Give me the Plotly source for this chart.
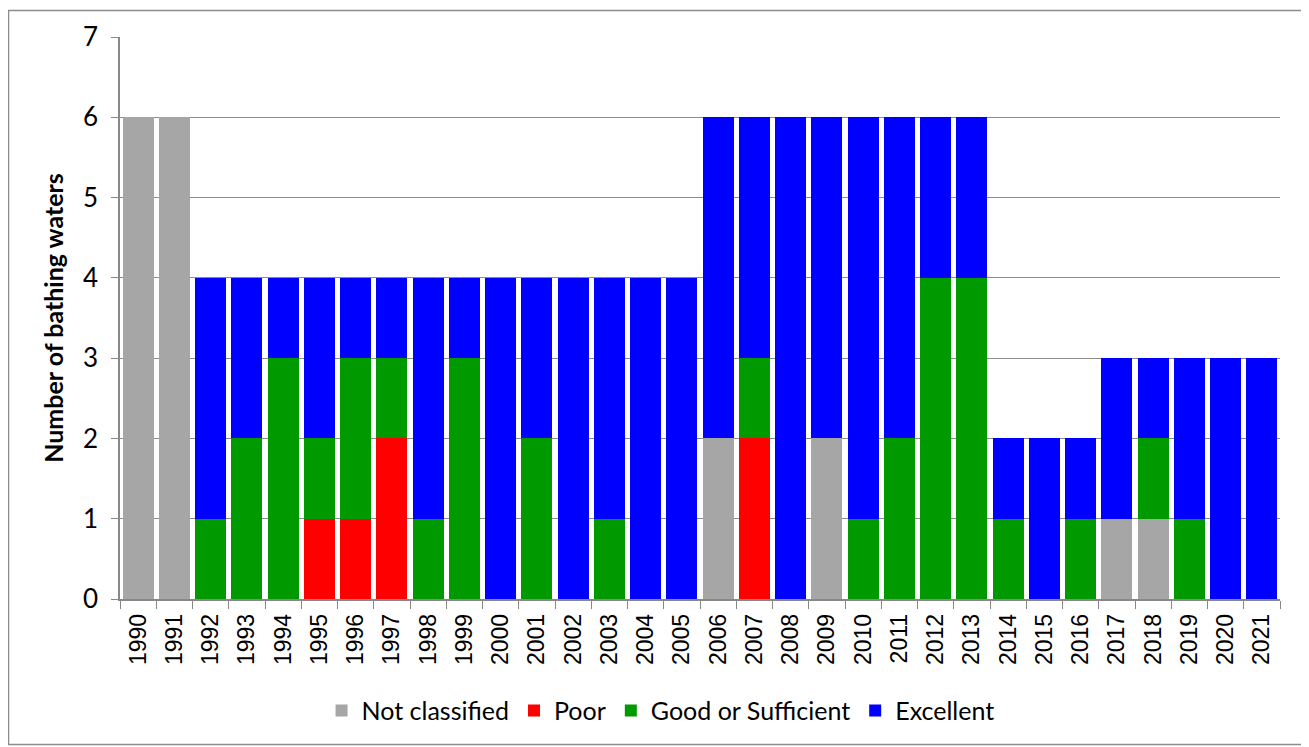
import plotly.graph_objects as go

years = [str(y) for y in range(1990, 2022)]
not_classified = [6, 6, 0, 0, 0, 0, 0, 0, 0, 0, 0, 0, 0, 0, 0, 0, 2, 0, 0, 2, 0, 0, 0, 0, 0, 0, 0, 1, 1, 0, 0, 0]
poor =           [0, 0, 0, 0, 0, 1, 1, 2, 0, 0, 0, 0, 0, 0, 0, 0, 0, 2, 0, 0, 0, 0, 0, 0, 0, 0, 0, 0, 0, 0, 0, 0]
good =           [0, 0, 1, 2, 3, 1, 2, 1, 1, 3, 0, 2, 0, 1, 0, 0, 0, 1, 0, 0, 1, 2, 4, 4, 1, 0, 1, 0, 1, 1, 0, 0]
excellent =      [0, 0, 3, 2, 1, 2, 1, 1, 3, 1, 4, 2, 4, 3, 4, 4, 4, 3, 6, 4, 5, 4, 2, 2, 1, 2, 1, 2, 1, 2, 3, 3]

series = [
    ("Not classified", not_classified, "#A6A6A6"),
    ("Poor", poor, "#FF0000"),
    ("Good or Sufficient", good, "#009900"),
    ("Excellent", excellent, "#0000FF"),
]

fig = go.Figure()
for name, vals, col in series:
    fig.add_trace(go.Bar(x=years, y=vals, name=name, marker=dict(color=col, line=dict(width=0))))

calib = "Lato, 'Open Sans', sans-serif"
fig.update_layout(
    barmode="stack",
    bargap=0.14,
    width=1301, height=739,
    margin=dict(l=112, r=29, t=27, b=148),
    plot_bgcolor="white", paper_bgcolor="white",
    font=dict(family=calib, color="black"),
    showlegend=True,
    legend=dict(orientation="h", x=0.466, xanchor="center", y=-0.199, yanchor="middle",
                font=dict(size=25, family=calib), traceorder="normal"),
    xaxis=dict(type="category", tickangle=-90, tickson="boundaries", ticks="outside", ticklen=8,
               tickcolor="#888888", showline=True, linecolor="#888888", linewidth=1.5,
               ticklabelstandoff=4,
               tickfont=dict(size=23, family="'Liberation Sans', Arial, sans-serif"), showgrid=False),
    yaxis=dict(range=[0, 7], dtick=1, ticks="outside", ticklen=7, tickcolor="#888888",
               showline=True, linecolor="#888888", linewidth=1.5, ticklabelstandoff=8,
               gridcolor="#8c8c8c", gridwidth=1, tickfont=dict(size=26, family=calib),
               title=dict(text="<b>Number of bathing waters</b>", font=dict(size=25, family=calib), standoff=12)),
    shapes=[dict(type="rect", xref="paper", yref="paper", x0=-0.0961, x1=1.0216, y0=-0.2589, y1=1.047,
                 line=dict(color="#8c8c8c", width=1.5), fillcolor="rgba(0,0,0,0)", layer="below")],
)

fig.write_html("out.html")
